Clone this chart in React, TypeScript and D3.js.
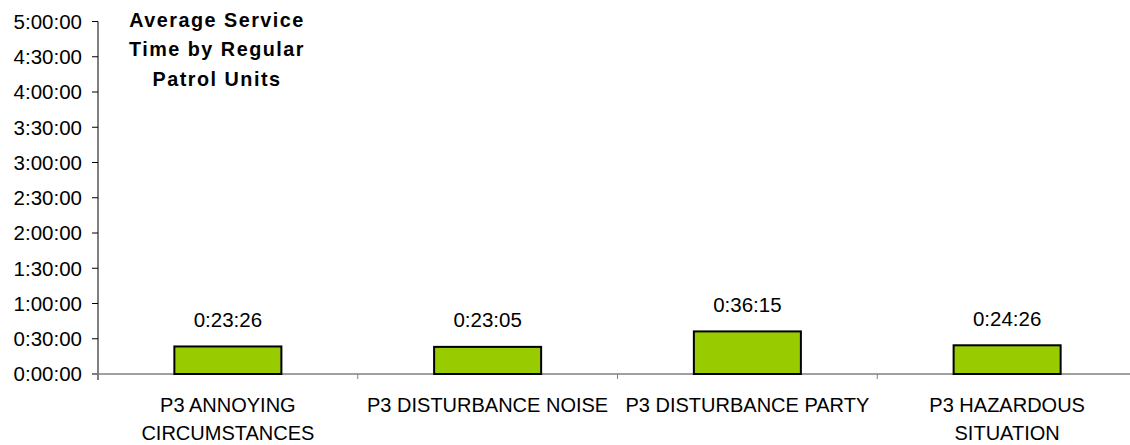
import React from "react";
import * as d3 from "d3";

const categories: string[][] = [
  ["P3 ANNOYING", "CIRCUMSTANCES"],
  ["P3 DISTURBANCE NOISE"],
  ["P3 DISTURBANCE PARTY"],
  ["P3 HAZARDOUS", "SITUATION"],
];
// seconds
const valueLabels: string[] = ["0:23:26", "0:23:05", "0:36:15", "0:24:26"];
const values: number[] = [23 * 60 + 26, 23 * 60 + 5, 36 * 60 + 15, 24 * 60 + 26];
const yTicks: number[] = d3.range(0, 5 * 3600 + 1, 1800);
const titleLines: string[] = ["Average Service", "Time by Regular", "Patrol Units"];

const fmt = (s: number) => {
  const h = Math.floor(s / 3600);
  const m = Math.floor((s % 3600) / 60);
  const sec = s % 60;
  return `${h}:${String(m).padStart(2, "0")}:${String(sec).padStart(2, "0")}`;
};

export default function App() {
  const W = 1130, H = 445;
  const left = 98, right = 1137, top = 21.5, bottom = 374;
  const x = d3.scaleBand<number>().domain(d3.range(categories.length)).range([left, right]).paddingInner(0.588).paddingOuter(0.294);
  const band = d3.scaleBand<number>().domain(d3.range(categories.length)).range([left, right]);
  const y = d3.scaleLinear().domain([0, 5 * 3600]).range([bottom, top]);
  const font = "Arial, 'Liberation Sans', sans-serif";
  return (
    <svg width={W} height={H} style={{ position: "absolute", left: 0, top: 0 }} fontFamily={font}>
      <rect width={W} height={H} fill="#fff" />
      {/* title */}
      <text x={217} fontSize={19.8} fontWeight="bold" textAnchor="middle" letterSpacing={1.5} fill="#000">
        {titleLines.map((l, i) => (
          <tspan key={i} x={217} y={26.7 + i * 29.7}>{l}</tspan>
        ))}
      </text>
      {/* y axis */}
      <line x1={left} x2={left} y1={y(5 * 3600)} y2={bottom + 6} stroke="#000" strokeWidth={1} />
      {yTicks.map((t) => (
        <g key={t}>
          <line x1={left - 6} x2={left} y1={y(t)} y2={y(t)} stroke="#000" />
          <text x={82} y={y(t)} dy="0.36em" fontSize={20.5} textAnchor="end" fill="#000">{fmt(t)}</text>
        </g>
      ))}
      {/* x axis */}
      <line x1={left - 6} x2={right} y1={bottom} y2={bottom} stroke="#808080" strokeWidth={1.5} />
      {categories.map((_, i) => (
        <line key={i} x1={band(i)!} x2={band(i)!} y1={bottom} y2={bottom + 5} stroke="#808080" />
      ))}
      {/* bars */}
      {values.map((v, i) => (
        <g key={i}>
          <rect x={x(i)!} y={y(v)} width={x.bandwidth()} height={bottom - y(v)} fill="#99CC00" stroke="#000" strokeWidth={2} />
          <text x={x(i)! + x.bandwidth() / 2} y={y(v) - 19.5} fontSize={20.5} textAnchor="middle" fill="#000">{valueLabels[i]}</text>
        </g>
      ))}
      {/* category labels */}
      {categories.map((lines, i) => (
        <text key={i} fontSize={20} textAnchor="middle" fill="#000">
          {lines.map((l, j) => (
            <tspan key={j} x={band(i)! + band.bandwidth() / 2} y={411.7 + j * 28.3}>{l}</tspan>
          ))}
        </text>
      ))}
    </svg>
  );
}
